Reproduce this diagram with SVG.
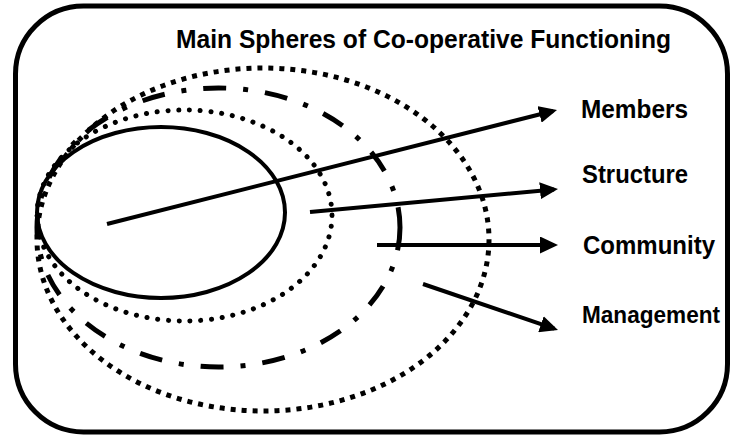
<svg xmlns="http://www.w3.org/2000/svg" width="732" height="437" viewBox="0 0 732 437">
<style>
.lbl{font-family:"Liberation Sans",Arial,sans-serif;font-weight:bold;font-size:26px;fill:#000}
.arr{stroke:#000;stroke-width:4;fill:none}
.ell{fill:none;stroke:#000}
</style>
<defs>
<marker id="ah" markerUnits="userSpaceOnUse" viewBox="0 0 18 17" markerWidth="18" markerHeight="17" refX="14" refY="8.5" orient="auto">
<path d="M0,0 L18,8.5 L0,17 z" fill="#000"/>
</marker>
</defs>
<rect width="732" height="437" fill="#fff"/>
<rect id="frame" x="15.5" y="6" width="712" height="426" rx="68" ry="68" fill="none" stroke="#000" stroke-width="5"/>
<g id="title"><text class="lbl" x="176" y="48" textLength="495" lengthAdjust="spacingAndGlyphs">Main Spheres of Co-operative Functioning</text></g>
<g id="sphere-members"><ellipse class="ell" cx="161" cy="212.5" rx="124" ry="85.5" stroke-width="4"/></g>
<g id="sphere-structure"><ellipse class="ell" cx="184.5" cy="215.5" rx="147.5" ry="105.5" stroke-width="5" stroke-dasharray="0.1 10.7" stroke-linecap="round"/></g>
<g id="sphere-community"><ellipse class="ell" cx="218.5" cy="227.5" rx="181.5" ry="139.5" stroke-width="5" stroke-dasharray="23 17 5 17"/></g>
<g id="sphere-management"><ellipse class="ell" cx="263" cy="239.5" rx="226" ry="171.5" stroke-width="5" stroke-dasharray="5 6"/></g>
<g id="connectors">
<line class="arr" x1="107" y1="224" x2="553.1" y2="111" marker-end="url(#ah)"/>
<line class="arr" x1="310" y1="212" x2="554" y2="189.4" marker-end="url(#ah)"/>
<line class="arr" x1="377" y1="245" x2="554" y2="245" marker-end="url(#ah)"/>
<line class="arr" x1="423" y1="284" x2="554.2" y2="328.7" marker-end="url(#ah)"/>
</g>
<g id="label-members"><text class="lbl" x="581" y="118" textLength="107" lengthAdjust="spacingAndGlyphs">Members</text></g>
<g id="label-structure"><text class="lbl" x="582" y="183" textLength="106" lengthAdjust="spacingAndGlyphs">Structure</text></g>
<g id="label-community"><text class="lbl" x="583" y="254" textLength="132" lengthAdjust="spacingAndGlyphs">Community</text></g>
<g id="label-management"><text class="lbl" x="582" y="323" style="font-size:23.5px" textLength="138" lengthAdjust="spacingAndGlyphs">Management</text></g>
</svg>
